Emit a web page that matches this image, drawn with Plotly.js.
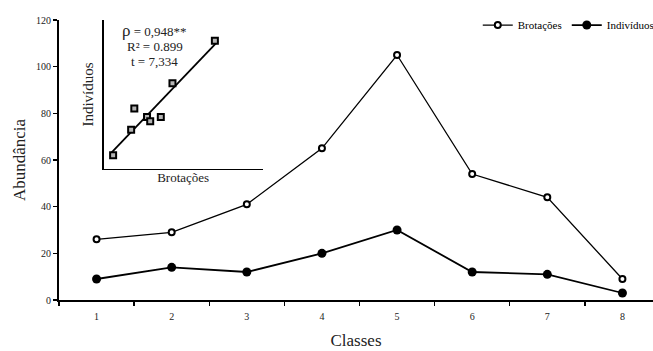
<!DOCTYPE html>
<html>
<head>
<meta charset="utf-8">
<script src="https://cdn.plot.ly/plotly-3.0.1.min.js"></script>
<style>html,body{margin:0;padding:0;background:#fff;}#chart{width:653px;height:351px;}</style>
</head>
<body>
<div id="chart"></div>
<script>
// ---- data ----
const classes = ['1', '2', '3', '4', '5', '6', '7', '8'];
const brotacoes = [26, 29, 41, 65, 105, 54, 44, 9];
const individuos = [9, 14, 12, 20, 30, 12, 11, 3];
const seriesNames = ['Brotações', 'Indivíduos'];
const insetStats = ['ρ = 0,948**', 'R² = 0.899', 't = 7,334'];
const axisTitles = { x: 'Classes', y: 'Abundância', insetX: 'Brotações', insetY: 'Indivíduos' };

// ---- regression for inset (computed from the data) ----
const n = brotacoes.length;
const mx = brotacoes.reduce((a, b) => a + b, 0) / n;
const my = individuos.reduce((a, b) => a + b, 0) / n;
let sxy = 0, sxx = 0;
for (let i = 0; i < n; i++) { sxy += (brotacoes[i] - mx) * (individuos[i] - my); sxx += (brotacoes[i] - mx) ** 2; }
const slope = sxy / sxx, intercept = my - slope * mx;
const xFit = [Math.min(...brotacoes) - 2, Math.max(...brotacoes) + 3];
const yFit = xFit.map(v => intercept + slope * v);

const FONT = '"Liberation Serif", "Times New Roman", Times, serif';

const traces = [
  {
    x: classes, y: brotacoes, name: seriesNames[0], type: 'scatter', mode: 'lines+markers',
    line: { color: '#000', width: 1.3 },
    marker: { symbol: 'circle', size: 6, color: '#fff', line: { color: '#000', width: 2 } },
    xaxis: 'x', yaxis: 'y'
  },
  {
    x: classes, y: individuos, name: seriesNames[1], type: 'scatter', mode: 'lines+markers',
    line: { color: '#000', width: 1.8 },
    marker: { symbol: 'circle', size: 9, color: '#000' },
    xaxis: 'x', yaxis: 'y'
  },
  {
    x: xFit, y: yFit, type: 'scatter', mode: 'lines', showlegend: false, hoverinfo: 'skip',
    line: { color: '#000', width: 1.8 }, xaxis: 'x2', yaxis: 'y2'
  },
  {
    x: brotacoes, y: individuos, type: 'scatter', mode: 'markers', showlegend: false,
    marker: { symbol: 'square', size: 6, color: '#b4b4b4', line: { color: '#000', width: 2 } },
    xaxis: 'x2', yaxis: 'y2', cliponaxis: false
  }
];

const layout = {
  width: 653, height: 351,
  margin: { l: 59, r: 0, t: 20, b: 51, pad: 0, autoexpand: false },
  paper_bgcolor: '#fff', plot_bgcolor: 'rgba(0,0,0,0)',
  font: { family: FONT, color: '#000', size: 10 },
  showlegend: true,
  legend: {
    orientation: 'h', x: 0.705, xanchor: 'left', y: 0.982, yanchor: 'middle',
    font: { family: FONT, size: 11, color: '#000' }, bgcolor: 'rgba(0,0,0,0)',
    borderwidth: 0, entrywidth: 44, traceorder: 'normal'
  },
  xaxis: {
    type: 'category', range: [-0.5, 7.407], showline: true, linecolor: '#000', linewidth: 2,
    ticks: 'outside', tickson: 'boundaries', ticklen: 4, tickwidth: 1.5, tickcolor: '#000',
    ticklabelstandoff: 6,
    showgrid: false, zeroline: false, fixedrange: true,
    tickfont: { family: FONT, size: 10, color: '#222' },
    title: { text: axisTitles.x, font: { family: FONT, size: 17, color: '#222' }, standoff: 13 }
  },
  yaxis: {
    range: [0, 120], dtick: 20, showline: true, linecolor: '#000', linewidth: 2,
    ticks: 'outside', ticklen: 4, tickwidth: 1.5, tickcolor: '#000',
    showgrid: false, zeroline: false, fixedrange: true,
    tickfont: { family: FONT, size: 10, color: '#222' },
    title: { text: axisTitles.y, font: { family: FONT, size: 17, color: '#222' }, standoff: 6 }
  },
  xaxis2: {
    domain: [0.0754, 0.3427], anchor: 'y2', range: [0.2, 150],
    showline: true, linecolor: '#000', linewidth: 1.5, showticklabels: false, ticks: '',
    showgrid: false, zeroline: false, fixedrange: true,
    title: { text: axisTitles.insetX, font: { family: FONT, size: 13, color: '#222' }, standoff: 3 }
  },
  yaxis2: {
    domain: [0.468, 1], anchor: 'x2', range: [-0.23, 34.9],
    showline: true, linecolor: '#000', linewidth: 1.5, showticklabels: false, ticks: '',
    showgrid: false, zeroline: false, fixedrange: true,
    title: { text: axisTitles.insetY, font: { family: FONT, size: 15, color: '#222' }, standoff: 5 }
  },
  annotations: [
    { xref: 'paper', yref: 'paper', x: 0.1613, y: 0.9618, xanchor: 'center', yanchor: 'middle', showarrow: false,
      text: '<span style="font-size:17px">' + insetStats[0].slice(0, 1) + '</span>' + insetStats[0].slice(1),
      font: { family: FONT, size: 13, color: '#222' } },
    { xref: 'paper', yref: 'paper', x: 0.1613, y: 0.9046, xanchor: 'center', yanchor: 'middle', showarrow: false,
      text: insetStats[1], font: { family: FONT, size: 13, color: '#222' } },
    { xref: 'paper', yref: 'paper', x: 0.1613, y: 0.851, xanchor: 'center', yanchor: 'middle', showarrow: false,
      text: insetStats[2], font: { family: FONT, size: 13, color: '#222' } }
  ]
};

Plotly.newPlot('chart', traces, layout, { staticPlot: true, displayModeBar: false });
</script>
</body>
</html>
